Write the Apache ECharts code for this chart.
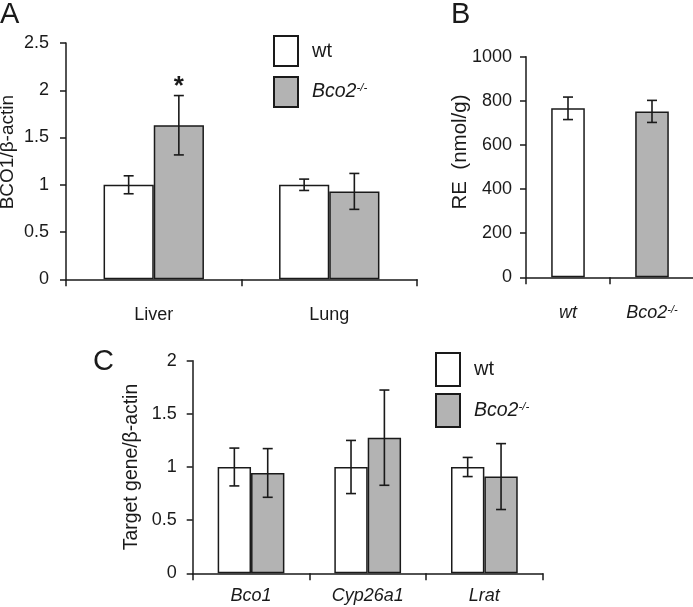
<!DOCTYPE html>
<html>
<head>
<meta charset="utf-8">
<script src="https://cdn.jsdelivr.net/npm/echarts@6/dist/echarts.min.js"></script>
<style>html,body{margin:0;padding:0;background:#fff}#c{width:693px;height:607px}</style>
</head>
<body>
<div id="c"></div>
<script>
// ---- data ----
const catsA = ['Liver', 'Lung'];
const wtA = [1.0, 1.0];
const wtAErr = [0.095, 0.06];
const koA = [1.63, 0.93];
const koAErr = [0.314, 0.19];
const sigA = ['*', ''];
const ticksA = [0, 0.5, 1, 1.5, 2, 2.5];

const catsB = ['wt', 'Bco2-/-'];
const reB = [766, 752];
const reBErr = [51, 50];
const ticksB = [0, 200, 400, 600, 800, 1000];

const catsC = ['Bco1', 'Cyp26a1', 'Lrat'];
const wtC = [1.0, 1.0, 1.0];
const wtCErr = [0.178, 0.25, 0.09];
const koC = [0.944, 1.276, 0.91];
const koCErr = [0.229, 0.448, 0.31];
const ticksC = [0, 0.5, 1, 1.5, 2];

const seriesNames = ['wt', 'Bco2-/-'];

// ---- style ----
const FONT = '"Liberation Sans", Arial, Helvetica, sans-serif';
const INK = '#1a1a1a';
const GRAY = '#b3b3b3';
const rich = {
  i: { fontStyle: 'italic', fontSize: 18, fontFamily: FONT, color: INK },
  s: { fontStyle: 'italic', fontSize: 11, fontFamily: FONT, color: INK, verticalAlign: 'top', padding: [0, 0, 6, 0] },
  li: { fontStyle: 'italic', fontSize: 19.5, fontFamily: FONT, color: INK },
  ls: { fontStyle: 'italic', fontSize: 11.5, fontFamily: FONT, color: INK, verticalAlign: 'top', padding: [0, 0, 7, 0] },
  n: { fontSize: 20, fontFamily: FONT, color: INK }
};
function koLabel(name) {
  return name.replace(/^(\w+)(-\/-)$/, '{i|$1}{s|$2}');
}
function legendLabel(name) {
  const m = name.match(/^(\w+)(-\/-)$/);
  return m ? '{li|' + m[1] + '}{ls|' + m[2] + '}' : '{n|' + name + '}';
}

const axisLine = { show: true, lineStyle: { color: INK, width: 1.5 } };
function yAx(gi, ticks, name, gap, padL, size, margin) {
  return {
    gridIndex: gi, type: 'value', min: ticks[0], max: ticks[ticks.length - 1],
    interval: ticks[1] - ticks[0],
    axisLine: axisLine, splitLine: { show: false },
    axisTick: { show: true, length: 6, lineStyle: { color: INK, width: 1.5 } },
    axisLabel: { fontSize: 18, fontFamily: FONT, color: INK, margin: margin, formatter: v => String(v) },
    name: name, nameLocation: 'middle', nameGap: gap, nameMoveOverlap: false,
    nameTextStyle: { fontSize: size, fontFamily: FONT, color: INK, padding: [0, 0, 0, padL] }
  };
}
function xAx(gi, cats, italic, margin) {
  return {
    gridIndex: gi, type: 'category', data: cats,
    axisLine: axisLine,
    axisTick: { show: true, length: 7, lineStyle: { color: INK, width: 1.5 } },
    axisLabel: {
      interval: 0, fontSize: 18, fontFamily: FONT, color: INK, margin: margin,
      fontStyle: italic ? 'italic' : 'normal',
      formatter: italic ? koLabel : null, rich: rich
    }
  };
}
function bars(name, gi, vals, color, width) {
  return {
    type: 'bar', name: name, xAxisIndex: gi, yAxisIndex: gi, data: vals,
    barWidth: width, barGap: '0%',
    itemStyle: { color: color, borderColor: INK, borderWidth: 1.5 },
    emphasis: { disabled: true }
  };
}
function errBars(gi, vals, errs, shift, frac, sig) {
  return {
    type: 'custom', xAxisIndex: gi, yAxisIndex: gi, z: 10,
    data: vals.map((v, i) => [i, v - errs[i], v + errs[i]]),
    renderItem: function (params, api) {
      const c = api.value(0);
      const lo = api.coord([c, api.value(1)]);
      const hi = api.coord([c, api.value(2)]);
      const band = api.size([1, 0])[0];
      const x = lo[0] + shift * band * frac / 2;
      const cap = 5;
      const st = { stroke: INK, lineWidth: 1.6 };
      const ch = [
        { type: 'line', shape: { x1: x, y1: lo[1], x2: x, y2: hi[1] }, style: st },
        { type: 'line', shape: { x1: x - cap, y1: lo[1], x2: x + cap, y2: lo[1] }, style: st },
        { type: 'line', shape: { x1: x - cap, y1: hi[1], x2: x + cap, y2: hi[1] }, style: st }
      ];
      if (sig && sig[params.dataIndex]) {
        ch.push({ type: 'text', style: { text: sig[params.dataIndex], x: x, y: hi[1] - 9,
          align: 'center', verticalAlign: 'middle', font: 'bold 26px ' + FONT, fill: INK } });
      }
      return { type: 'group', children: ch };
    }
  };
}

const option = {
  animation: false,
  backgroundColor: '#fff',
  textStyle: { fontFamily: FONT },
  grid: [
    { left: 66, top: 43, width: 351, height: 236.3, containLabel: false, outerBoundsMode: 'none' },
    { left: 526, top: 56.7, width: 168, height: 220.6, containLabel: false, outerBoundsMode: 'none' },
    { left: 192.7, top: 360.7, width: 350, height: 212.6, containLabel: false, outerBoundsMode: 'none' }
  ],
  xAxis: [xAx(0, catsA, false, 27), xAx(1, catsB, true, 27), xAx(2, catsC, true, 14)],
  yAxis: [
    yAx(0, ticksA, 'BCO1/\u03b2-actin', 49, 18, 19, 17),
    yAx(1, ticksB, 'RE  (nmol/g)', 55, 30, 20.5, 14),
    yAx(2, ticksC, 'Target gene/\u03b2-actin', 52, 0, 19.4, 16)
  ],
  legend: [
    { data: seriesNames, left: 273, top: 35, padding: 0, orient: 'vertical', itemWidth: 24, itemHeight: 30,
      itemGap: 9, icon: 'rect', formatter: legendLabel, textStyle: { rich: rich, padding: [0, 0, 0, 9] },
      selectedMode: false },
    { data: seriesNames, left: 435, top: 352, padding: 0, orient: 'vertical', itemWidth: 24, itemHeight: 33,
      itemGap: 6, icon: 'rect', formatter: legendLabel, textStyle: { rich: rich, padding: [0, 0, 0, 9] },
      selectedMode: false }
  ],
  graphic: [
    { type: 'text', left: 0, top: 0, style: { text: 'A', font: '29px ' + FONT, fill: INK } },
    { type: 'text', left: 451, top: 0, style: { text: 'B', font: '29px ' + FONT, fill: INK } },
    { type: 'text', left: 93, top: 347, style: { text: 'C', font: '29px ' + FONT, fill: INK } }
  ],
  series: [
    bars(seriesNames[0], 0, wtA, '#ffffff', '28.6%'),
    bars(seriesNames[1], 0, koA, GRAY, '28.6%'),
    errBars(0, wtA, wtAErr, -1, 0.286, null),
    errBars(0, koA, koAErr, 1, 0.286, sigA),
    {
      type: 'bar', name: 'RE', xAxisIndex: 1, yAxisIndex: 1, barWidth: '40%',
      data: reB.map((v, i) => ({ value: v, itemStyle: { color: i === 0 ? '#ffffff' : GRAY } })),
      itemStyle: { borderColor: INK, borderWidth: 1.5 }, emphasis: { disabled: true }
    },
    errBars(1, reB, reBErr, 0, 0.4, null),
    bars(seriesNames[0], 2, wtC, '#ffffff', '28.6%'),
    bars(seriesNames[1], 2, koC, GRAY, '28.6%'),
    errBars(2, wtC, wtCErr, -1, 0.286, null),
    errBars(2, koC, koCErr, 1, 0.286, null)
  ]
};
const chart = echarts.init(document.getElementById('c'), null, { renderer: 'canvas' });
chart.setOption(option);
</script>
</body>
</html>
